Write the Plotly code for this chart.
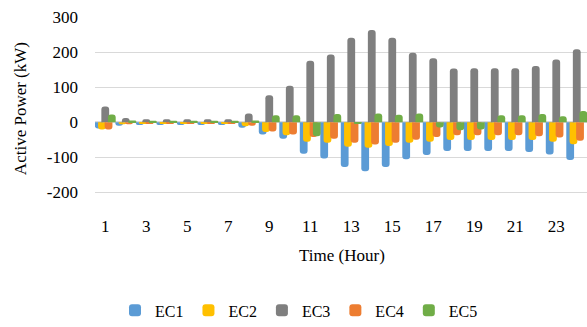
import plotly.graph_objects as go

hours = list(range(1, 25))
ec1 = [-18, -10, -8, -8, -8, -8, -8, -16, -35, -47, -90, -104, -128, -140, -128, -106, -94, -82, -82, -82, -82, -85, -92, -108]
ec2 = [-21, -6, -5, -5, -5, -5, -5, -12, -28, -37, -56, -59, -70, -73, -68, -59, -56, -51, -51, -51, -51, -51, -56, -63]
ec3 = [45, 12, 8, 8, 8, 8, 8, 25, 77, 104, 175, 193, 241, 263, 241, 198, 182, 153, 154, 154, 154, 160, 179, 208]
ec4 = [-21, -6, -5, -5, -5, -5, -5, -10, -27, -35, -42, -47, -59, -64, -59, -50, -42, -37, -37, -37, -37, -40, -44, -53]
ec5 = [22, 5, 4, 4, 4, 4, 4, 5, 20, 20, -40, 23, -5, 25, 21, 25, -15, -23, -21, 20, 20, 23, 17, 32]
names = ["EC1", "EC2", "EC3", "EC4", "EC5"]
series = [ec1, ec2, ec3, ec4, ec5]
colors = ["#5B9BD5", "#FFC000", "#7F7F7F", "#ED7D31", "#70AD47"]
xticks = [1, 3, 5, 7, 9, 11, 13, 15, 17, 19, 21, 23]
yticks = [-200, -100, 0, 100, 200, 300]

FONT = "Liberation Serif, Times New Roman, serif"
W, H = 587, 327
L, R, T = 95, 0, 17
ymin, ymax = -262, 300
pxper = 0.35
plot_h = (ymax - ymin) * pxper
B = H - T - plot_h

fig = go.Figure()
bw = 0.38
step = 0.16
for i, (n, s, c) in enumerate(zip(names, series, colors)):
    center = (i - 2) * step
    fig.add_trace(go.Bar(
        x=hours, y=s, name=n,
        marker=dict(color=c, cornerradius=3, line=dict(width=0)),
        width=bw, offset=center - bw / 2,
    ))

def py(pix):
    return (T + plot_h - pix) / plot_h

def px(pix):
    return (pix - L) / (W - L - R)

fig.update_layout(
    width=W, height=H,
    margin=dict(l=L, r=R, t=T, b=B, pad=0, autoexpand=False),
    barmode="overlay",
    plot_bgcolor="white", paper_bgcolor="white",
    font=dict(family=FONT, size=17, color="#000000"),
    showlegend=True,
    legend=dict(orientation="h", x=px(299), y=py(327), xanchor="center", yanchor="bottom",
                font=dict(family=FONT, size=16), itemwidth=30, traceorder="normal",
                bgcolor="rgba(0,0,0,0)", borderwidth=0),
    xaxis=dict(range=[0.5, 24.5], tickmode="array", tickvals=xticks, ticktext=[str(v) for v in xticks],
               showgrid=False, zeroline=False, showline=False, ticks="",
               tickfont=dict(family=FONT, size=17)),
    yaxis=dict(range=[ymin, ymax], tickmode="array", tickvals=yticks, ticktext=[str(v) for v in yticks],
               showgrid=True, gridcolor="#D9D9D9", gridwidth=1.2,
               zeroline=True, zerolinecolor="#D9D9D9", zerolinewidth=1.5,
               showline=False, ticks="", ticklabelstandoff=16,
               tickfont=dict(family=FONT, size=17)),
    annotations=[
        dict(text="Active Power (kW)", textangle=-90, xref="paper", yref="paper",
             x=px(20), y=py(109), xanchor="center", yanchor="middle", showarrow=False,
             font=dict(family=FONT, size=17)),
        dict(text="Time (Hour)", xref="paper", yref="paper",
             x=px(342), y=py(255), xanchor="center", yanchor="middle", showarrow=False,
             font=dict(family=FONT, size=17)),
    ],
)

fig.write_html("out.html")
